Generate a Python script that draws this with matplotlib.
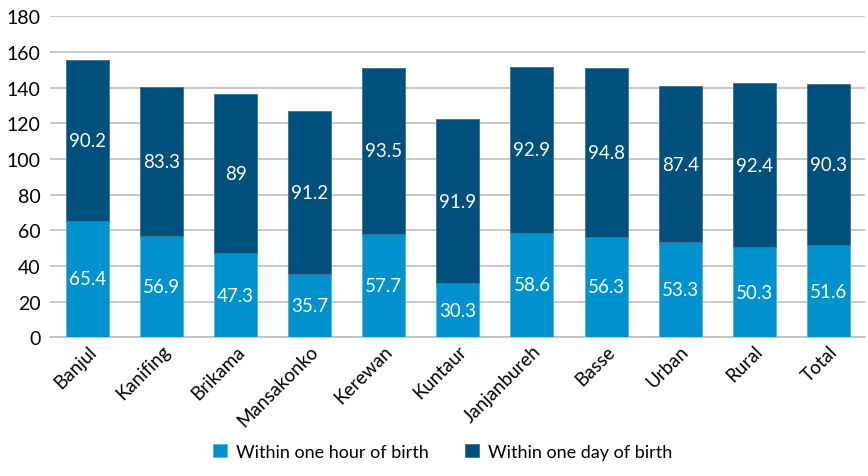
import numpy as np
import matplotlib
matplotlib.use('Agg')
import matplotlib.pyplot as plt

# Regions and percentages
regions = ['Banjul', 'Kanifing', 'Brikama', 'Mansakonko', 'Kerewan', 'Kuntaur',
           'Janjanbureh', 'Basse', 'Urban', 'Rural', 'Total']
within_hour = [65.4, 56.9, 47.3, 35.7, 57.7, 30.3, 58.6, 56.3, 53.3, 50.3, 51.6]
within_day = [90.2, 83.3, 89, 91.2, 93.5, 91.9, 92.9, 94.8, 87.4, 92.4, 90.3]
yticks = np.arange(0, 181, 20)

light = '#0092CF'
dark = '#00507D'

plt.rcParams['font.family'] = ['Lato', 'DejaVu Sans']

fig = plt.figure(figsize=(8.68, 4.77), dpi=100)
ax = fig.add_axes([0.058, 0.291, 0.939, 0.673])

x = np.arange(len(regions))
w = 0.58
b1 = ax.bar(x, within_hour, w, color=light, edgecolor='#4FB3DE', linewidth=0.6,
            label='Within one hour of birth', zorder=3)
b2 = ax.bar(x, within_day, w, bottom=within_hour, color=dark, edgecolor='#3A7398',
            linewidth=0.6, label='Within one day of birth', zorder=3)

def fmt(v):
    return f'{v:g}'

for xi, h, d in zip(x, within_hour, within_day):
    ax.text(xi, h / 2, fmt(h), ha='center', va='center', color='white', fontsize=13.5, zorder=4)
    ax.text(xi, h + d / 2, fmt(d), ha='center', va='center', color='white', fontsize=13.5, zorder=4)

ax.set_xlim(-0.5, len(regions) - 0.5)
ax.set_ylim(0, 180)
ax.set_yticks(yticks)
ax.yaxis.grid(True, color='#BFBFBF', linewidth=1.2, zorder=0)
ax.set_axisbelow(True)
for s in ['top', 'right', 'left']:
    ax.spines[s].set_visible(False)
ax.spines['bottom'].set_color('#BFBFBF')
ax.spines['bottom'].set_linewidth(1.2)
ax.tick_params(axis='both', length=0, labelsize=13.5, colors='#000000')
ax.tick_params(axis='y', labelsize=14, pad=7)
ax.set_xticks(x)
ax.set_xticklabels(regions, rotation=45, ha='right', rotation_mode='anchor')

fig.legend(handles=[b1, b2], loc='lower center', bbox_to_anchor=(0.51, 0.0), ncol=2,
           frameon=False, fontsize=13, handlelength=0.8, handleheight=0.8,
           handletextpad=0.5, columnspacing=2.0)

fig.savefig('out.png', dpi=100)
